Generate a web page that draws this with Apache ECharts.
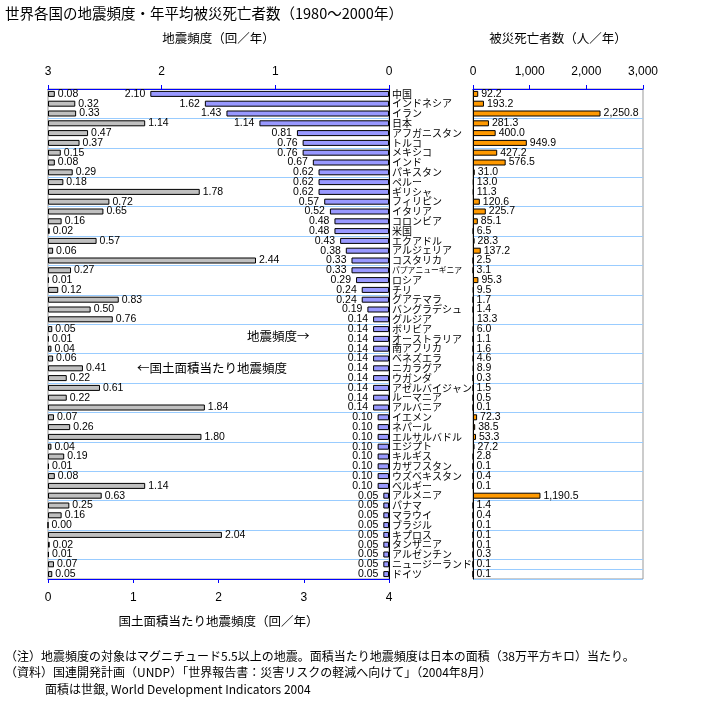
<!DOCTYPE html>
<html><head><meta charset="utf-8">
<script src="https://cdn.jsdelivr.net/npm/echarts@6/dist/echarts.min.js"></script>
<style>html,body{margin:0;padding:0;background:#fff}#c{width:716px;height:702px}</style>
</head><body><div id="c"></div>
<script>
const categories = ['中国','インドネシア','イラン','日本','アフガニスタン','トルコ','メキシコ','インド','パキスタン','ペルー','ギリシャ','フィリピン','イタリア','コロンビア','米国','エクアドル','アルジェリア','コスタリカ','パプアニューギニア','ロシア','チリ','グアテマラ','バングラデシュ','グルジア','ボリビア','オーストラリア','南アフリカ','ベネズエラ','ニカラグア','ウガンダ','アゼルバイジャン','ルーマニア','アルバニア','イエメン','ネパール','エルサルバドル','エジプト','キルギス','カザフスタン','ウズベキスタン','ベルギー','アルメニア','パナマ','マラウイ','ブラジル','キプロス','タンザニア','アルゼンチン','ニュージーランド','ドイツ'];
const quakeFreq = [2.10,1.62,1.43,1.14,0.81,0.76,0.76,0.67,0.62,0.62,0.62,0.57,0.52,0.48,0.48,0.43,0.38,0.33,0.33,0.29,0.24,0.24,0.19,0.14,0.14,0.14,0.14,0.14,0.14,0.14,0.14,0.14,0.14,0.10,0.10,0.10,0.10,0.10,0.10,0.10,0.10,0.05,0.05,0.05,0.05,0.05,0.05,0.05,0.05,0.05];
const freqPerArea = [0.08,0.32,0.33,1.14,0.47,0.37,0.15,0.08,0.29,0.18,1.78,0.72,0.65,0.16,0.02,0.57,0.06,2.44,0.27,0.01,0.12,0.83,0.50,0.76,0.05,0.01,0.04,0.06,0.41,0.22,0.61,0.22,1.84,0.07,0.26,1.80,0.04,0.19,0.01,0.08,1.14,0.63,0.25,0.16,0.00,2.04,0.02,0.01,0.07,0.05];
const deaths = [92.2,193.2,2250.8,281.3,400.0,949.9,427.2,576.5,31.0,13.0,11.3,120.6,225.7,85.1,6.5,28.3,137.2,2.5,3.1,95.3,9.5,1.7,1.4,13.3,6.0,1.1,1.6,4.6,8.9,0.3,1.5,0.5,0.1,72.3,38.5,53.3,27.2,2.8,0.1,0.4,0.1,1190.5,1.4,0.4,0.1,0.1,0.1,0.3,0.1,0.1];

const FONT = '"Noto Sans CJK JP", sans-serif';
const NUMFONT = '"Liberation Sans", Arial, sans-serif';
const AXISBLUE = '#0000ff';
const GRIDBLUE = '#99ccff';

const chart = echarts.init(document.getElementById('c'), null, {renderer: 'canvas'});
const valLabel = {fontFamily: NUMFONT, fontSize: 10.5, color: '#000'};
chart.setOption({
  animation: false,
  textStyle: {fontFamily: FONT},
  grid: [
    {left: 48, right: 327, top: 89, bottom: 123, show: true, borderColor: '#999', borderWidth: 1, backgroundColor: 'transparent'},
    {left: 473, right: 73, top: 89, bottom: 123, show: true, borderColor: '#999', borderWidth: 1, backgroundColor: 'transparent'}
  ],
  xAxis: [
    {gridIndex: 0, type: 'value', position: 'top', inverse: true, min: 0, max: 3, interval: 1,
     name: '地震頻度（回／年）', nameLocation: 'middle', nameGap: 44,
     nameTextStyle: {fontFamily: FONT, fontSize: 12.5, color: '#000'},
     axisLine: {show: true, lineStyle: {color: AXISBLUE, width: 1}},
     axisTick: {show: true, length: 4, lineStyle: {color: AXISBLUE}},
     axisLabel: {margin: 11, fontFamily: NUMFONT, fontSize: 12, color: '#000'},
     splitLine: {show: false}},
    {gridIndex: 0, type: 'value', position: 'bottom', min: 0, max: 4, interval: 1,
     name: '国土面積当たり地震頻度（回／年）', nameLocation: 'middle', nameGap: 36,
     nameTextStyle: {fontFamily: FONT, fontSize: 12.5, color: '#000'},
     axisLine: {show: true, lineStyle: {color: AXISBLUE, width: 1}},
     axisTick: {show: true, length: 4, lineStyle: {color: AXISBLUE}},
     axisLabel: {margin: 13, fontFamily: NUMFONT, fontSize: 12, color: '#000'},
     splitLine: {show: false}},
    {gridIndex: 1, type: 'value', position: 'top', min: 0, max: 3000, interval: 1000,
     name: '被災死亡者数（人／年）', nameLocation: 'middle', nameGap: 44,
     nameTextStyle: {fontFamily: FONT, fontSize: 12.5, color: '#000'},
     axisLine: {show: true, lineStyle: {color: AXISBLUE, width: 1}},
     axisTick: {show: true, length: 4, lineStyle: {color: AXISBLUE}},
     axisLabel: {margin: 11, fontFamily: NUMFONT, fontSize: 12, color: '#000'},
     splitLine: {show: false}}
  ],
  yAxis: [
    {gridIndex: 0, type: 'category', data: categories, inverse: true, position: 'right',
     axisLine: {show: true, lineStyle: {color: '#000'}}, axisTick: {show: false}, axisLabel: {show: false},
     splitLine: {show: true, interval: 2, lineStyle: {color: GRIDBLUE, width: 1}}},
    {gridIndex: 1, type: 'category', data: categories, inverse: true, position: 'left',
     axisLine: {show: true, lineStyle: {color: '#000'}}, axisTick: {show: false},
     axisLabel: {show: true, interval: 0, align: 'left', margin: 81, fontFamily: FONT, fontSize: 10, color: '#000',
       formatter: function (v) { return v.length > 8 ? '{s|' + v + '}' : v; },
       rich: {s: {fontSize: 7.8, fontFamily: FONT, color: '#000'}}},
     splitLine: {show: true, interval: 2, lineStyle: {color: GRIDBLUE, width: 1}}}
  ],
  series: [
    {type: 'bar', name: '地震頻度', xAxisIndex: 0, yAxisIndex: 0, data: quakeFreq, barWidth: 6, barGap: '-100%',
     itemStyle: {color: '#9999ff', borderColor: '#000', borderWidth: 1},
     label: Object.assign({show: true, position: 'left', distance: 5, formatter: p => p.value.toFixed(2)}, valLabel)},
    {type: 'bar', name: '国土面積当たり地震頻度', xAxisIndex: 1, yAxisIndex: 0, data: freqPerArea, barWidth: 6, barGap: '-100%',
     itemStyle: {color: '#c0c0c0', borderColor: '#000', borderWidth: 1},
     label: Object.assign({show: true, position: 'right', distance: 3, formatter: p => p.value.toFixed(2)}, valLabel)},
    {type: 'bar', name: '被災死亡者数', xAxisIndex: 2, yAxisIndex: 1, data: deaths, barWidth: 6,
     itemStyle: {color: '#ff9900', borderColor: '#000', borderWidth: 1},
     label: Object.assign({show: true, position: 'right', distance: 3,
       formatter: p => p.value.toLocaleString('en-US', {minimumFractionDigits: 1, maximumFractionDigits: 1})}, valLabel)}
  ],
  graphic: [
    {type: 'text', left: 5, top: 6, style: {text: '世界各国の地震頻度・年平均被災死亡者数（1980〜2000年）', font: '14.5px ' + FONT, fill: '#000'}},
    {type: 'text', left: 247, top: 330, style: {text: '地震頻度→', font: '12.5px ' + FONT, fill: '#000'}},
    {type: 'text', left: 137, top: 362, style: {text: '←国土面積当たり地震頻度', font: '12.5px ' + FONT, fill: '#000'}},
    {type: 'text', left: 5, top: 650, style: {text: '（注）地震頻度の対象はマグニチュード5.5以上の地震。面積当たり地震頻度は日本の面積（38万平方キロ）当たり。', font: '12px ' + FONT, fill: '#000'}},
    {type: 'text', left: 5, top: 666, style: {text: '（資料）国連開発計画（UNDP）「世界報告書：災害リスクの軽減へ向けて」（2004年8月）', font: '12px ' + FONT, fill: '#000'}},
    {type: 'text', left: 45, top: 683, style: {text: '面積は世銀, World Development Indicators 2004', font: '12px ' + FONT, fill: '#000'}}
  ]
});
</script></body></html>
